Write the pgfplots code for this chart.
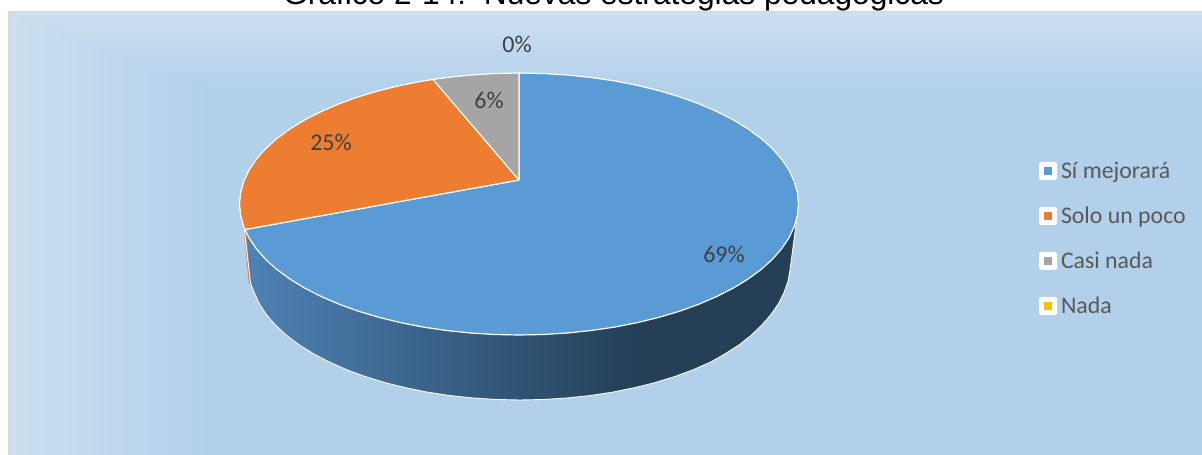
\documentclass[border=0pt]{standalone}
\usepackage{pgfplots}
\pgfplotsset{compat=1.18}
\usepackage{fontspec}
\setmainfont{Carlito}
\newfontfamily\arialfont{Liberation Sans}
\definecolor{bgA}{HTML}{CCDFF0}
\definecolor{bgB}{HTML}{B2D0EA}
\definecolor{frameC}{HTML}{D9D9D9}
\definecolor{blueS}{HTML}{5B9BD5}
\definecolor{orangeS}{HTML}{ED7D31}
\definecolor{grayS}{HTML}{A5A5A5}
\definecolor{yellowS}{HTML}{FFC000}
\definecolor{sideL}{HTML}{4E82B6}
\definecolor{sideM}{HTML}{3D688F}
\definecolor{sideD}{HTML}{243F56}
\definecolor{lblC}{HTML}{404040}
\definecolor{legC}{HTML}{595959}
\begin{document}
\begin{tikzpicture}
\useasboundingbox (0,0) rectangle (1202pt,455pt);
\clip (0,0) rectangle (1202pt,455pt);
\begin{axis}[
  scale only axis, width=1202pt, height=455pt,
  xmin=0, xmax=1202, ymin=0, ymax=455, y dir=reverse,
  hide axis,
  title={\arialfont\fontsize{31.7}{36}\selectfont Gr\'afico 2-14:\ \ Nuevas estrategias pedag\'ogicas},
  title style={at={(0.5104,0.978)}, anchor=base, inner sep=0pt, text=black, yshift=0pt},
  legend cell align=left,
  legend style={draw=none, fill=none, at={(axis cs:1039,160)}, anchor=north west,
    font=\fontsize{23.8}{26}\selectfont, text=legC, row sep=23pt, inner sep=0pt, outer sep=0pt,
    /tikz/every even column/.append style={column sep=3pt}},
]
% frame and background
\addplot[forget plot, draw=none, fill=frameC] coordinates {(7.5,11)(1202,11)(1202,455)(7.5,455)};
\addplot[forget plot, draw=none, fill=bgB] coordinates {(9.5,12.5)(1202,12.5)(1202,455)(9.5,455)};
\addplot[forget plot, draw=none, top color=bgA, bottom color=bgB] coordinates {(9.5,12.5)(1202,12.5)(1202,90)(210,90)};
\addplot[forget plot, draw=none, left color=bgA, right color=bgB] coordinates {(9.5,12.5)(210,90)(210,455)(9.5,455)};
% side: dark right part
\addplot[forget plot, draw=none, fill=sideD] coordinates {
 (796.5,221)(794.2,226.7)(789,237.9)(781.6,248.8)(772.3,259.4)(761.1,269.5)(748,279.1)(733.1,288.2)(716.6,296.6)(698.7,304.3)(679.3,311.3)(658.8,317.4)(637.1,322.7)(625,326)
 (625,389.5)(634.1,387.8)(655,382.6)(674.9,376.5)(693.6,369.6)(710.9,361.9)(725.5,353.6)(739.5,344.6)(751.5,335)(762,324.9)(771,314.5)(778.5,303.6)(784,292.6)(788,281.3)(790,270)};
% side: shaded left part
\addplot[forget plot, draw=none, left color=sideL, middle color=sideM, right color=sideD] coordinates {
 (637.1,322.7)(614.6,327.1)(591.3,330.5)(567.5,333)(543.4,334.5)(519,335)(494.6,334.5)(470.5,333)(446.7,330.5)(423.4,327.1)(400.9,322.7)(379.2,317.4)(358.7,311.3)(339.3,304.3)(321.4,296.6)(304.9,288.2)(290,279.1)(276.9,269.5)(265.7,259.4)(256.4,248.8)(249,237.9)(245,229.5)
 (250,283)(254.1,292.6)(259.2,303.6)(266.3,314.5)(275.3,324.9)(286.2,335)(298.8,344.6)(313.2,353.6)(329.1,361.9)(346.4,369.6)(365.1,376.5)(385,382.6)(405.9,387.8)(427.7,392.2)(450.1,395.6)(473.1,398)(496.5,399.5)(520,400)(543.5,399.5)(566.9,398)(589.9,395.6)(612.3,392.2)(634.1,387.8)};
% side: orange sliver
\addplot[forget plot, draw=none, fill=orangeS] coordinates {(243,222)(246,230)(250,283)(248.8,283)};
% white outline of the side
\addplot[forget plot, white, line width=0.9pt, line join=round] coordinates {
 (796.5,221)(790,270)(788,281.3)(784,292.6)(778.5,303.6)(771,314.5)(762,324.9)(751.5,335)(739.5,344.6)(725.5,353.6)(710.9,361.9)(693.6,369.6)(674.9,376.5)(655,382.6)(634.1,387.8)(612.3,392.2)(589.9,395.6)(566.9,398)(543.5,399.5)(520,400)(496.5,399.5)(473.1,398)(450.1,395.6)(427.7,392.2)(405.9,387.8)(385,382.6)(365.1,376.5)(346.4,369.6)(329.1,361.9)(313.2,353.6)(298.8,344.6)(286.2,335)(275.3,324.9)(266.3,314.5)(259.2,303.6)(254.1,292.6)(250.5,283)(243.5,222)};
% top face: 69 %, 25 %, 6 %, 0 %
\addplot[draw=white, line width=1.2pt, line join=round, fill=blueS,
 legend image code/.code={\path[draw=none,fill=none] (0pt,0pt) -- (20pt,0pt);\fill[white,draw=none,rounded corners=1.5pt] (0pt,-9pt) rectangle (18pt,9pt);\fill[blueS,draw=none] (5pt,-4pt) rectangle (13pt,4pt);}] coordinates {
 (519,180)(519,73)(543.4,73.5)(567.5,75)(591.3,77.5)(614.6,80.9)(637.1,85.3)(658.8,90.6)(679.3,96.7)(698.7,103.7)(716.6,111.4)(733.1,119.8)(748,128.9)(761.1,138.5)(772.3,148.6)(781.6,159.2)(789,170.1)(794.2,181.3)(797.4,192.6)(798.5,204)
 (797.4,215.4)(794.2,226.7)(789,237.9)(781.6,248.8)(772.3,259.4)(761.1,269.5)(748,279.1)(733.1,288.2)(716.6,296.6)(698.7,304.3)(679.3,311.3)(658.8,317.4)(637.1,322.7)(614.6,327.1)(591.3,330.5)(567.5,333)(543.4,334.5)(519,335)
 (494.6,334.5)(470.5,333)(446.7,330.5)(423.4,327.1)(400.9,322.7)(379.2,317.4)(358.7,311.3)(339.3,304.3)(321.4,296.6)(304.9,288.2)(290,279.1)(276.9,269.5)(265.7,259.4)(256.4,248.8)(249,237.9)(245,229.5)(519,180)};
\addlegendentry{S\'i mejorar\'a}
\addplot[draw=white, line width=1.2pt, line join=round, fill=orangeS,
 legend image code/.code={\path[draw=none,fill=none] (0pt,0pt) -- (20pt,0pt);\fill[white,draw=none,rounded corners=1.5pt] (0pt,-9pt) rectangle (18pt,9pt);\fill[orangeS,draw=none] (5pt,-4pt) rectangle (13pt,4pt);}] coordinates {
 (519,180)(245,229.5)(243.8,226.7)(240.6,215.4)(239.5,204)(240.6,192.6)(243.8,181.3)(249,170.1)(256.4,159.2)(265.7,148.6)(276.9,138.5)(290,128.9)(304.9,119.8)(321.4,111.4)(339.3,103.7)(358.7,96.7)(379.2,90.6)(400.9,85.3)(423.4,80.9)(433,79.4)(519,180)};
\addlegendentry{Solo un poco}
\addplot[draw=white, line width=1.2pt, line join=round, fill=grayS,
 legend image code/.code={\path[draw=none,fill=none] (0pt,0pt) -- (20pt,0pt);\fill[white,draw=none,rounded corners=1.5pt] (0pt,-9pt) rectangle (18pt,9pt);\fill[grayS,draw=none] (5pt,-4pt) rectangle (13pt,4pt);}] coordinates {
 (519,180)(433,79.4)(446.7,77.5)(470.5,75)(494.6,73.5)(519,73)(519,180)};
\addlegendentry{Casi nada}
\addplot[draw=none, fill=yellowS,
 legend image code/.code={\path[draw=none,fill=none] (0pt,0pt) -- (20pt,0pt);\fill[white,draw=none,rounded corners=1.5pt] (0pt,-9pt) rectangle (18pt,9pt);\fill[yellowS,draw=none] (5pt,-4pt) rectangle (13pt,4pt);}] coordinates {
 (519,180)(519,73)(519,180)};
\addlegendentry{Nada}
% data labels
\node[text=lblC, font=\fontsize{24}{26}\selectfont] at (axis cs:517,44) {0\%};
\node[text=lblC, font=\fontsize{24}{26}\selectfont] at (axis cs:489,100) {6\%};
\node[text=lblC, font=\fontsize{24}{26}\selectfont] at (axis cs:331,142) {25\%};
\node[text=lblC, font=\fontsize{24}{26}\selectfont] at (axis cs:724,254) {69\%};
\end{axis}
\end{tikzpicture}
\end{document}
